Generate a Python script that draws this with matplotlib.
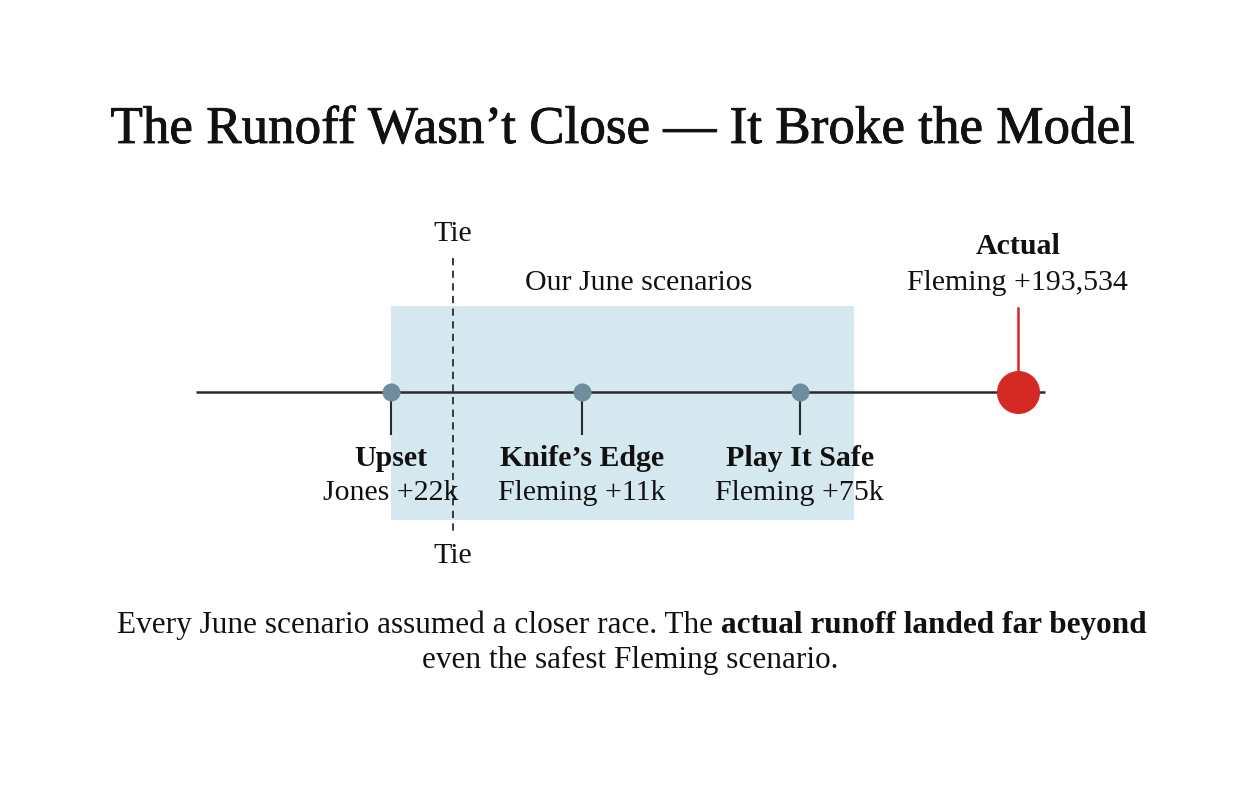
import numpy as np
import matplotlib.pyplot as plt
import matplotlib.patheffects as pe
from matplotlib.patches import Rectangle

plt.rcParams['font.family'] = ['Liberation Serif', 'DejaVu Serif']

# data: runoff margin in votes (positive = Fleming ahead)
scenario_names = ["Upset", "Knife\u2019s Edge", "Play It Safe"]
scenario_labels = ["Jones +22k", "Fleming +11k", "Fleming +75k"]
scenario_margin = [-22000, 11000, 75000]
actual_margin = 193534
actual_label = "Fleming +193,534"
tie_margin = 0

title = "The Runoff Wasn\u2019t Close \u2014 It Broke the Model"
note_plain = "Every June scenario assumed a closer race. The "
note_bold = "actual runoff landed far beyond"
note_line2 = "even the safest Fleming scenario."

P = 0.515     # power of the scale
NEG = 0.336   # Jones side squeezed


def forward(v):
    v = np.asarray(v, dtype=float)
    return np.where(v >= 0, np.abs(v) ** P, -NEG * np.abs(v) ** P)


def inverse(u):
    u = np.asarray(u, dtype=float)
    return np.where(u >= 0, np.abs(u) ** (1 / P), -(np.abs(u) / NEG) ** (1 / P))


W, H = 1260, 787
fig = plt.figure(figsize=(W / 100, H / 100), dpi=100)
ax = fig.add_axes([0, 0, 1, 1])
ax.set_xscale('function', functions=(forward, inverse))
px_per_unit = 1.0697
tie_px = 453
ax.set_xlim(float(inverse(-tie_px / px_per_unit)), float(inverse((W - tie_px) / px_per_unit)))
ax.set_ylim(H, 0)
ax.axis('off')

line_y = 392
ink = '#2b2b2b'
txt = '#111111'
dot_col = '#6e8d9e'
red = '#d42a23'
fs = 21.5

# scenario band
lo = min(scenario_margin)
hi = float(inverse(forward(max(scenario_margin)) + 54 / px_per_unit))
ax.add_patch(Rectangle((lo, 306), hi - lo, 214, facecolor='#d5e7ef', edgecolor='none', zorder=0))
mid = float(inverse((forward(lo) + forward(hi)) / 2 + 16 / px_per_unit))
ax.text(mid, 283, "Our June scenarios", ha='center', va='center', fontsize=fs, color=txt)

# number line
ax.plot([196 / W, 1045 / W], [line_y, line_y], color=ink, lw=1.8,
        transform=ax.get_yaxis_transform(), zorder=1, solid_capstyle='butt')

# tie line
ax.plot([tie_margin, tie_margin], [258, 535], color=ink, lw=1.3, ls=(0, (4, 3)), zorder=2)
ax.text(tie_margin, 234, "Tie", ha='center', va='center', fontsize=fs, color=txt)
ax.text(tie_margin, 556, "Tie", ha='center', va='center', fontsize=fs, color=txt)

# scenarios
for m, name, lab in zip(scenario_margin, scenario_names, scenario_labels):
    ax.plot([m, m], [line_y, 434], color=ink, lw=1.5, zorder=2)
    ax.plot(m, line_y, 'o', ms=13, color=dot_col, mec='none', zorder=3)
    ax.text(m, 458, name, ha='center', va='center', fontsize=fs, fontweight='bold', color=txt)
    ax.text(m, 493, lab, ha='center', va='center', fontsize=fs, color=txt)

# actual result
ax.plot([actual_margin, actual_margin], [308, line_y], color=red, lw=1.8, zorder=2)
ax.plot(actual_margin, line_y, 'o', ms=31, color=red, mec='none', zorder=3)
ax.text(actual_margin, 247, "Actual", ha='center', va='center', fontsize=fs, fontweight='bold', color=txt)
ax.text(actual_margin, 283, actual_label, ha='center', va='center', fontsize=fs, color=txt)

# title
fig.text(622 / W, 1 - 130 / H, title, ha='center', va='center', fontsize=38.2, color=txt,
         path_effects=[pe.withStroke(linewidth=0.6, foreground=txt)])

# footnote with bold run, centred together
nfs = 22.5
r = fig.canvas.get_renderer()
t1 = fig.text(0, 1 - 625 / H, note_plain, ha='left', va='center', fontsize=nfs, color=txt)
t2 = fig.text(0, 1 - 625 / H, note_bold, ha='left', va='center', fontsize=nfs, fontweight='bold', color=txt)
w1 = t1.get_window_extent(r).width
w2 = t2.get_window_extent(r).width
x0 = 632 - (w1 + w2) / 2
t1.set_x(x0 / W)
t2.set_x((x0 + w1) / W)
fig.text(630 / W, 1 - 660 / H, note_line2, ha='center', va='center', fontsize=nfs, color=txt)

fig.savefig('out.png', dpi=100, facecolor='white')
